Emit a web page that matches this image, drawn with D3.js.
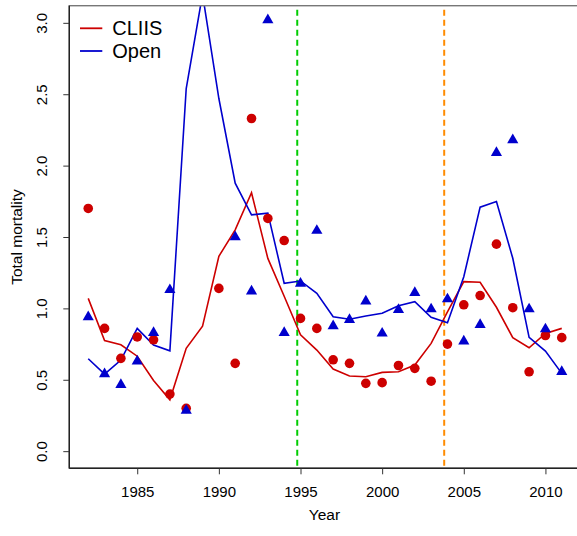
<!DOCTYPE html>
<html>
<head>
<meta charset="utf-8">
<script src="https://cdn.jsdelivr.net/npm/d3@7"></script>
<style>
  body { margin: 0; background: white; }
  svg { display: block; }
  text { font-family: "Liberation Sans", Arial, Helvetica, sans-serif; fill: black; }
</style>
</head>
<body>
<script>
var years = [1982, 1983, 1984, 1985, 1986, 1987, 1988, 1989, 1990, 1991,
  1992, 1993, 1994, 1995, 1996, 1997, 1998, 1999, 2000, 2001,
  2002, 2003, 2004, 2005, 2006, 2007, 2008, 2009, 2010, 2011];

// observed points (null = not shown)
var cliisObs = [1.70, 0.86, 0.65, 0.80, 0.78, 0.40, 0.30, null, 1.14, 0.615,
  2.33, 1.63, 1.475, 0.93, 0.86, 0.64, 0.615, 0.475, 0.48, 0.60,
  0.58, 0.49, 0.75, 1.025, 1.09, 1.45, 1.005, 0.556, 0.81, 0.795];
var openObs = [0.94, 0.54, 0.465, 0.63, 0.83, 1.13, 0.285, null, null, 1.50,
  1.12, 3.02, 0.83, 1.175, 1.545, 0.877, 0.92, 1.05, 0.825, 0.99,
  1.11, 0.995, 1.065, 0.77, 0.885, 2.09, 2.18, 0.995, 0.855, 0.556];

// fitted lines
var cliisFit = [1.07, 0.775, 0.745, 0.665, 0.495, 0.36, 0.72, 0.875, 1.365, 1.55,
  1.81, 1.35, 1.085, 0.815, 0.708, 0.575, 0.526, 0.521, 0.552, 0.556,
  0.603, 0.755, 0.975, 1.187, 1.183, 1.008, 0.795, 0.724, 0.825, 0.86];
var openFit = [0.647, 0.54, 0.638, 0.86, 0.743, 0.703, 2.54, 3.2, 2.47, 1.877,
  1.655, 1.667, 1.176, 1.192, 1.106, 0.942, 0.924, 0.947, 0.966, 1.019,
  1.047, 0.938, 0.90, 1.222, 1.709, 1.748, 1.351, 0.797, 0.701, 0.545];

var periodLines = [1994.8, 2003.8];
var periodColors = ["#00CD00", "#FF8C00"];
var xTicks = [1985, 1990, 1995, 2000, 2005, 2010];
var yTicks = [0, 0.5, 1, 1.5, 2, 2.5, 3];
var seriesNames = ["CLIIS", "Open"];
var seriesColors = ["#CD0000", "#0000CD"];

var width = 577, height = 536;
var mLeft = 69.3, mRight = 580.7, mTop = 5.7, mBottom = 468.3;

var svg = d3.select("body").append("svg")
  .attr("width", width)
  .attr("height", height);

var x = d3.scaleLinear().domain([1980.84, 2012.16]).range([mLeft, mRight]);
var y = d3.scaleLinear().domain([-0.12, 3.12]).range([mBottom, mTop]);

svg.append("clipPath").attr("id", "plotclip")
  .append("rect")
  .attr("x", mLeft).attr("y", mTop)
  .attr("width", mRight - mLeft).attr("height", mBottom - mTop);

var plot = svg.append("g").attr("clip-path", "url(#plotclip)");

// vertical dashed period lines
plot.selectAll(".vline")
  .data(periodLines)
  .enter()
  .append("line")
  .attr("x1", function(d) { return x(d); })
  .attr("x2", function(d) { return x(d); })
  .attr("y1", mTop + 4)
  .attr("y2", mBottom)
  .attr("stroke", function(d, i) { return periodColors[i]; })
  .attr("stroke-width", 2)
  .attr("stroke-dasharray", "6,4");

function lineData(vals) {
  return years.map(function(yr, i) { return [yr, vals[i]]; });
}

var line = d3.line()
  .x(function(d) { return x(d[0]); })
  .y(function(d) { return y(d[1]); });

plot.append("path")
  .attr("d", line(lineData(cliisFit)))
  .attr("fill", "none")
  .attr("stroke", seriesColors[0])
  .attr("stroke-width", 1.6);

plot.append("path")
  .attr("d", line(lineData(openFit)))
  .attr("fill", "none")
  .attr("stroke", seriesColors[1])
  .attr("stroke-width", 1.6);

// red dots
plot.selectAll(".dot")
  .data(lineData(cliisObs).filter(function(d) { return d[1] != null; }))
  .enter()
  .append("circle")
  .attr("cx", function(d) { return x(d[0]); })
  .attr("cy", function(d) { return y(d[1]); })
  .attr("r", 4.8)
  .attr("fill", seriesColors[0]);

// blue triangles
var tri = d3.symbol().type(d3.symbolTriangle).size(54);
plot.selectAll(".tri")
  .data(lineData(openObs).filter(function(d) { return d[1] != null; }))
  .enter()
  .append("path")
  .attr("d", tri)
  .attr("transform", function(d) { return "translate(" + x(d[0]) + "," + y(d[1]) + ")"; })
  .attr("fill", seriesColors[1]);

// box
svg.append("rect")
  .attr("x", mLeft).attr("y", mTop)
  .attr("width", mRight - mLeft).attr("height", mBottom - mTop)
  .attr("fill", "none")
  .attr("stroke", "#777")
  .attr("stroke-width", 1.4);
svg.append("line")
  .attr("x1", mLeft).attr("x2", mRight).attr("y1", mBottom).attr("y2", mBottom)
  .attr("stroke", "#222").attr("stroke-width", 1.4);
svg.append("line")
  .attr("x1", mLeft).attr("x2", mLeft).attr("y1", mTop).attr("y2", mBottom)
  .attr("stroke", "#222").attr("stroke-width", 1.4);

// x axis
var xAxis = svg.append("g")
  .attr("transform", "translate(0," + mBottom + ")")
  .call(d3.axisBottom(x).tickValues(xTicks).tickSize(6).tickFormat(d3.format("d")));
xAxis.select(".domain").remove();
xAxis.attr("font-size", null).attr("font-family", null);
xAxis.selectAll("line").attr("stroke", "#333");
xAxis.selectAll("text")
  .style("font-size", "15px")
  .attr("dy", null)
  .attr("y", 28.8);

// y axis
var yAxis = svg.append("g")
  .attr("transform", "translate(" + mLeft + ",0)")
  .call(d3.axisLeft(y).tickValues(yTicks).tickSize(6).tickFormat(d3.format(".1f")));
yAxis.select(".domain").remove();
yAxis.attr("font-size", null).attr("font-family", null);
yAxis.selectAll("line").attr("stroke", "#333");
yAxis.selectAll("text")
  .style("font-size", "15px")
  .attr("text-anchor", "middle")
  .attr("dy", null)
  .attr("x", null)
  .attr("transform", "translate(-22.6,0) rotate(-90)");

svg.append("text")
  .attr("x", 324.5)
  .attr("y", 520)
  .attr("text-anchor", "middle")
  .style("font-size", "15.5px")
  .text("Year");

svg.append("text")
  .attr("transform", "translate(21.5," + ((mTop + mBottom) / 2) + ") rotate(-90)")
  .attr("text-anchor", "middle")
  .style("font-size", "15.5px")
  .text("Total mortality");

// legend
var legend = svg.selectAll(".legend")
  .data(seriesNames)
  .enter()
  .append("g")
  .attr("transform", function(d, i) { return "translate(0," + (28.3 + i * 22.7) + ")"; });
legend.append("line")
  .attr("x1", 80).attr("x2", 102.3)
  .attr("y1", 0).attr("y2", 0)
  .attr("stroke", function(d, i) { return seriesColors[i]; })
  .attr("stroke-width", 1.8);
legend.append("text")
  .attr("x", 112.3)
  .attr("y", 7)
  .style("font-size", "20px")
  .text(function(d) { return d; });
</script>
</body>
</html>
